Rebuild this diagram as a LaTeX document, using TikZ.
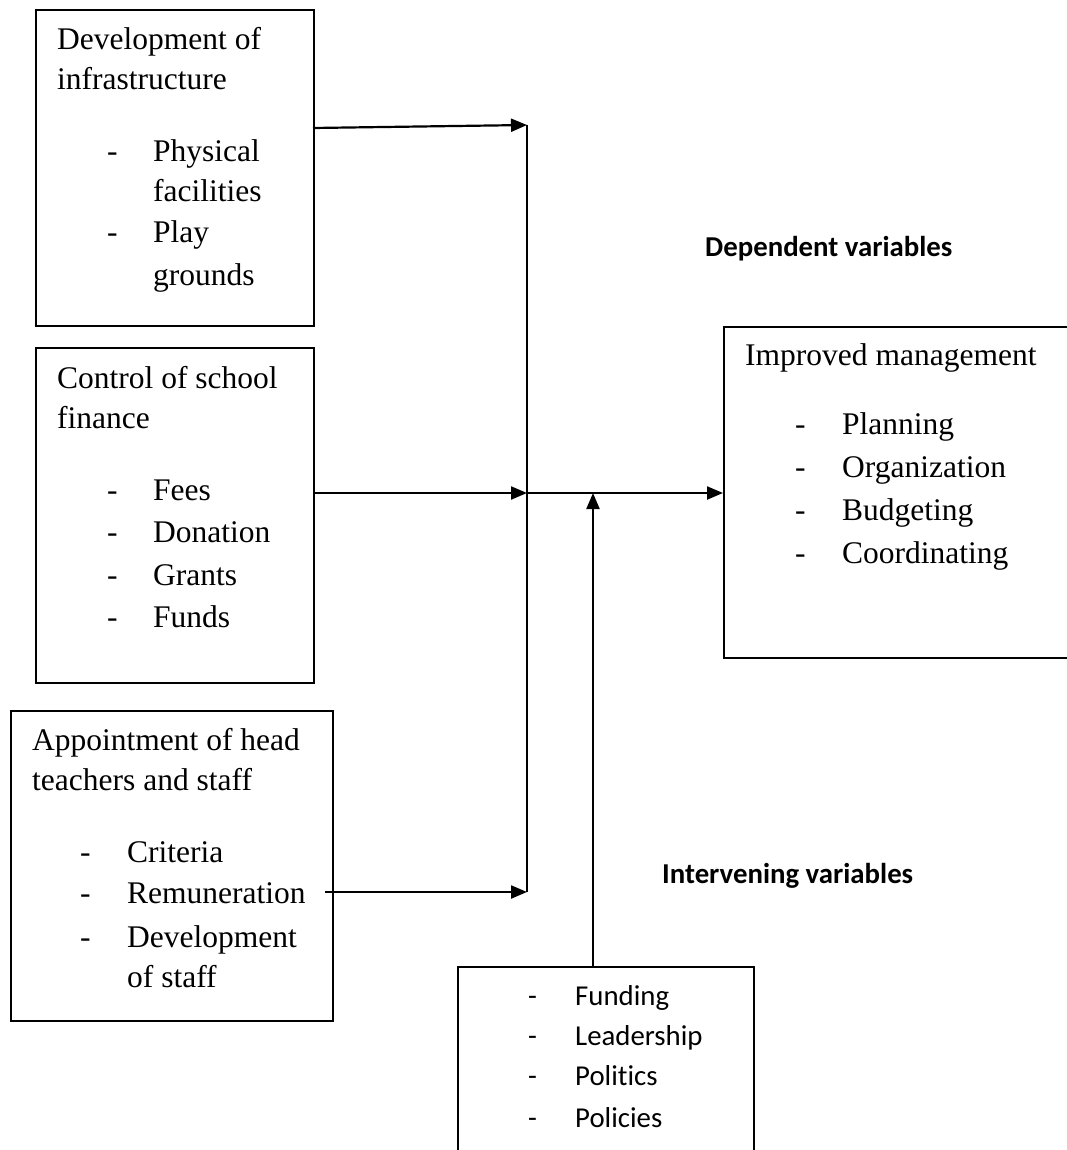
\documentclass[tikz,border=0pt]{standalone}
\usepackage{fontspec}
\setmainfont{Liberation Serif}
\newfontfamily\calfont[Ligatures={NoCommon}]{Carlito}
\usetikzlibrary{arrows.meta}
\begin{document}
\begin{tikzpicture}[x=1pt,y=-1pt,
  box/.style={draw,line width=1.6pt,inner sep=0pt,anchor=north west},
  tx/.style={anchor=base west,inner sep=0pt,font=\fontsize{31.5}{40}\selectfont},
  cx/.style={anchor=base west,inner sep=0pt,font=\calfont\fontsize{28.8}{36}\selectfont},
  bx/.style={anchor=base west,inner sep=0pt,font=\calfont\bfseries\fontsize{28.8}{36}\selectfont},
  arr/.style={line width=2.2pt,-{Triangle[length=16pt,width=13pt]}},
  ln/.style={line width=2.2pt}]
\useasboundingbox (0,0) rectangle (1067,1150);
\fill[white] (0,0) rectangle (1067,1150);

% boxes
\node[box,minimum width=278pt,minimum height=316pt] (b1) at (35,9) {};
\node[box,minimum width=278pt,minimum height=335pt] (b2) at (35,347) {};
\node[box,minimum width=322pt,minimum height=310pt] (b3) at (10,710) {};
\node[box,minimum width=296pt,minimum height=260pt] (b4) at (457,966) {};
\node[box,minimum width=420pt,minimum height=331pt] (b5) at (723,326) {};

% box 1 text
\node[tx] (t11) at (57,50) {Development of};
\node[tx] (t12) at (57,90) {infrastructure};
\node[tx] (d11) at (107,162) {-};
\node[tx] (t13) at (153,162) {Physical};
\node[tx] (t14) at (153,202) {facilities};
\node[tx] (d12) at (107,243) {-};
\node[tx] (t15) at (153,243) {Play};
\node[tx] (t16) at (153,285) {grounds};

% box 2 text
\node[tx] (t21) at (57,388) {Control of school};
\node[tx] (t22) at (57,428) {finance};
\node[tx] (d21) at (107,500) {-};
\node[tx] (t23) at (153,500) {Fees};
\node[tx] (d22) at (107,542) {-};
\node[tx] (t24) at (153,542) {Donation};
\node[tx] (d23) at (107,585) {-};
\node[tx] (t25) at (153,585) {Grants};
\node[tx] (d24) at (107,627) {-};
\node[tx] (t26) at (153,627) {Funds};

% box 3 text
\node[tx] (t31) at (32,750) {Appointment of head};
\node[tx] (t32) at (32,790) {teachers and staff};
\node[tx] (d31) at (80,862) {-};
\node[tx] (t33) at (127,862) {Criteria};
\node[tx] (d32) at (80,903) {-};
\node[tx] (t34) at (127,903) {Remuneration};
\node[tx] (d33) at (80,947) {-};
\node[tx] (t35) at (127,947) {Development};
\node[tx] (t36) at (127,987) {of staff};

% box 5 text
\node[tx] (t51) at (745,365) {Improved management};
\node[tx] (d51) at (795,434) {-};
\node[tx] (t52) at (842,434) {Planning};
\node[tx] (d52) at (795,477) {-};
\node[tx] (t53) at (842,477) {Organization};
\node[tx] (d53) at (795,520) {-};
\node[tx] (t54) at (842,520) {Budgeting};
\node[tx] (d54) at (795,563) {-};
\node[tx] (t55) at (842,563) {Coordinating};

% box 4 text
\node[cx] (d41) at (528,1005) {-};
\node[cx] (t41) at (575,1005) {Funding};
\node[cx] (d42) at (528,1045) {-};
\node[cx] (t42) at (575,1045) {Leadership};
\node[cx] (d43) at (528,1085) {-};
\node[cx] (t43) at (575,1085) {Politics};
\node[cx] (d44) at (528,1127) {-};
\node[cx] (t44) at (575,1127) {Policies};

% labels
\node[bx] (dep) at (705,257) {Dependent variables};
\node[bx] (int) at (662,883) {Intervening variables};

% connectors
\coordinate (s1) at (313,128);
\coordinate (v1) at (527,125);
\coordinate (s2) at (313,493);
\coordinate (v2) at (527,493);
\coordinate (s3) at (325,892);
\coordinate (v3) at (527,892);
\coordinate (u0) at (593,966);
\coordinate (u1) at (593,493);

\draw[ln] (v1) -- (v3);
\draw[arr] (s1) -- (v1);
\draw[arr] (s2) -- (v2);
\draw[arr] (s3) -- (v3);
\draw[arr] (v2) -- (b5.west |- v2);
\draw[arr] (u0) -- (u1);
\end{tikzpicture}
\end{document}
